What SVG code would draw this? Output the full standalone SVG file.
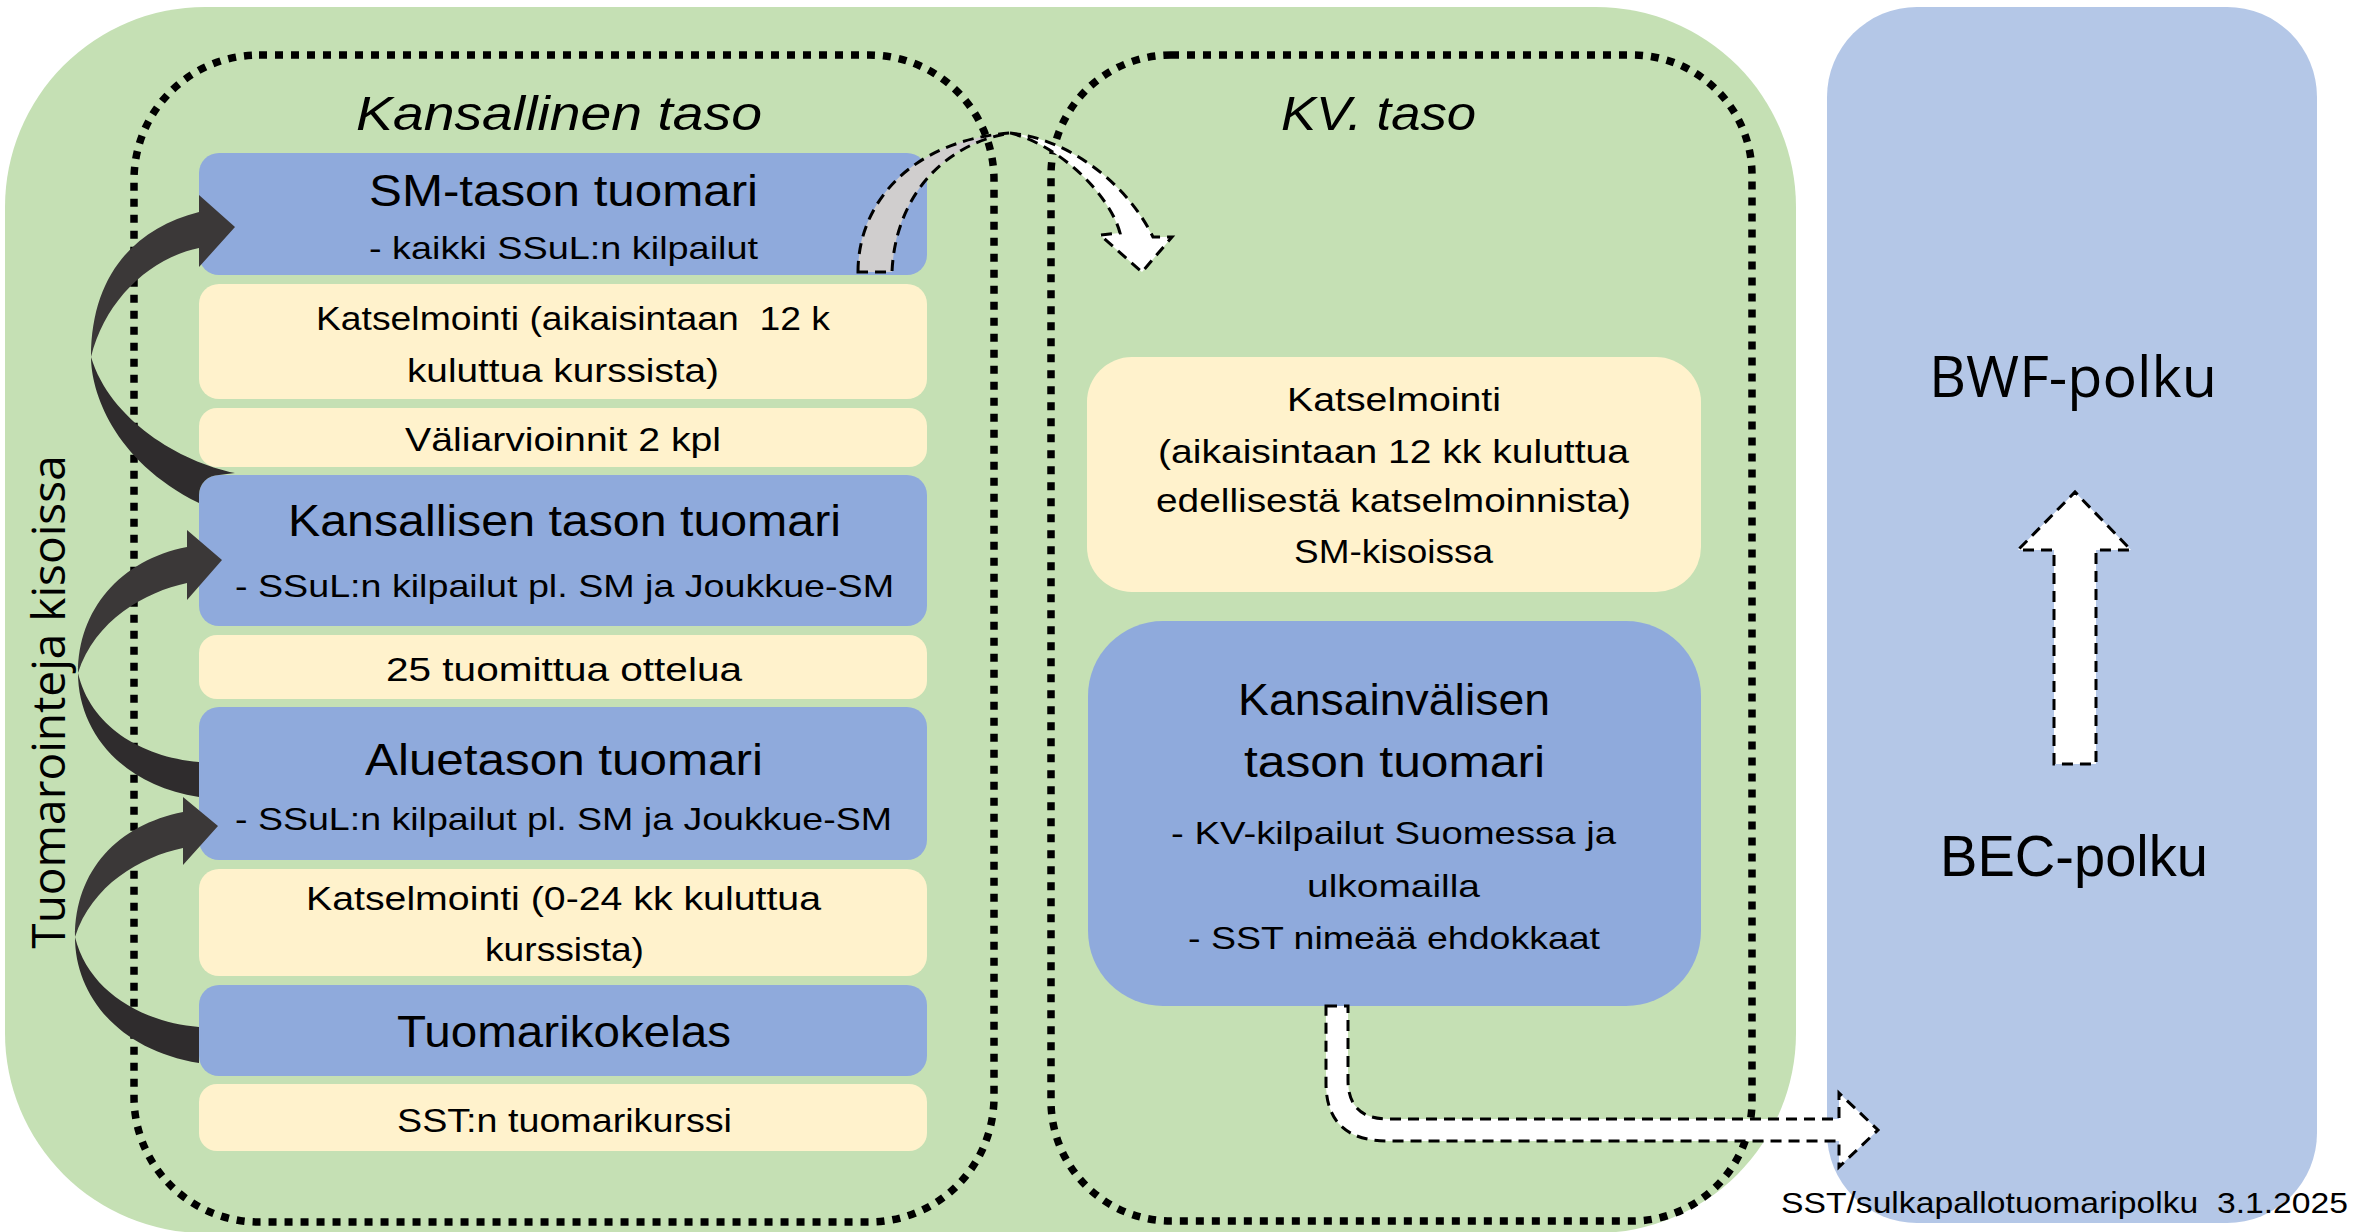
<svg xmlns="http://www.w3.org/2000/svg" width="2374" height="1232" viewBox="0 0 2374 1232">
<defs>
<style>
.t{font-family:"Liberation Sans",Arial,sans-serif;fill:#000;white-space:pre}
.os{font-family:"Open Sans","Noto Sans",sans-serif;fill:#000}
.big{font-size:45px}
.sm{font-size:33px}
.sub{font-size:32px}
.ttl{font-size:49px;font-style:italic}
.blue{fill:#8FAADC}
.yel{fill:#FFF2CC}
.dots{fill:none;stroke:#000;stroke-width:7.5;stroke-dasharray:8 8}
.dash{stroke:#000;stroke-width:3;stroke-dasharray:11 7;stroke-linejoin:miter}
.dk1{fill:#3B3838}
.dk2{fill:#2F2C2D}
</style>
</defs>

<g id="background">
<rect x="5" y="7" width="1791" height="1226" rx="200" ry="200" fill="#C5E0B4"/>
<rect x="1827" y="7" width="490" height="1216" rx="90" ry="90" fill="#B4C7E7"/>
</g>

<g id="container-national">
<rect class="dots" x="134" y="55" width="860" height="1167" rx="125" ry="125"/>
<text class="t ttl" x="356" y="130" textLength="406" lengthAdjust="spacingAndGlyphs">Kansallinen taso</text>
</g>

<g id="container-international">
<rect class="dots" x="1051" y="55" width="701" height="1166" rx="120" ry="120"/>
<text class="t ttl" x="1281" y="130" textLength="195" lengthAdjust="spacingAndGlyphs">KV. taso</text>
</g>

<g id="panel-bwf">
<text class="os" font-size="57" x="1929" y="397" textLength="288" lengthAdjust="spacingAndGlyphs">BWF-polku</text>
</g>
<g id="panel-bec">
<text class="t" font-size="57" x="1940" y="876" textLength="268" lengthAdjust="spacingAndGlyphs">BEC-polku</text>
</g>

<g id="node-sm-tason">
<rect class="blue" x="199" y="153" width="728" height="122" rx="20"/>
<text class="t big" x="369" y="206" textLength="389" lengthAdjust="spacingAndGlyphs">SM-tason tuomari</text>
<text class="t sub" x="369" y="259" textLength="389" lengthAdjust="spacingAndGlyphs">- kaikki SSuL:n kilpailut</text>
</g>

<g id="node-katselmointi-12k">
<rect class="yel" x="199" y="284" width="728" height="115" rx="20"/>
<text class="t sm" x="316" y="330" textLength="514" lengthAdjust="spacingAndGlyphs" xml:space="preserve">Katselmointi (aikaisintaan  12 k</text>
<text class="t sm" x="407" y="382" textLength="312" lengthAdjust="spacingAndGlyphs">kuluttua kurssista)</text>
</g>

<g id="node-valiarvioinnit">
<rect class="yel" x="199" y="408" width="728" height="59" rx="18"/>
<text class="t sm" x="405" y="451" textLength="316" lengthAdjust="spacingAndGlyphs">Väliarvioinnit 2 kpl</text>
</g>

<g id="node-kansallisen">
<rect class="blue" x="199" y="475" width="728" height="151" rx="20"/>
<text class="t big" x="288" y="536" textLength="553" lengthAdjust="spacingAndGlyphs">Kansallisen tason tuomari</text>
<text class="t sub" x="235" y="597" textLength="659" lengthAdjust="spacingAndGlyphs">- SSuL:n kilpailut pl. SM ja Joukkue-SM</text>
</g>

<g id="node-25-ottelua">
<rect class="yel" x="199" y="635" width="728" height="64" rx="18"/>
<text class="t sm" x="386" y="681" textLength="356" lengthAdjust="spacingAndGlyphs">25 tuomittua ottelua</text>
</g>

<g id="node-aluetason">
<rect class="blue" x="199" y="707" width="728" height="153" rx="20"/>
<text class="t big" x="365" y="775" textLength="398" lengthAdjust="spacingAndGlyphs">Aluetason tuomari</text>
<text class="t sub" x="235" y="830" textLength="657" lengthAdjust="spacingAndGlyphs">- SSuL:n kilpailut pl. SM ja Joukkue-SM</text>
</g>

<g id="node-katselmointi-024">
<rect class="yel" x="199" y="869" width="728" height="107" rx="20"/>
<text class="t sm" x="306" y="910" textLength="515" lengthAdjust="spacingAndGlyphs">Katselmointi (0-24 kk kuluttua</text>
<text class="t sm" x="485" y="961" textLength="159" lengthAdjust="spacingAndGlyphs">kurssista)</text>
</g>

<g id="node-tuomarikokelas">
<rect class="blue" x="199" y="985" width="728" height="91" rx="20"/>
<text class="t big" x="397" y="1047" textLength="334" lengthAdjust="spacingAndGlyphs">Tuomarikokelas</text>
</g>

<g id="node-tuomarikurssi">
<rect class="yel" x="199" y="1084" width="728" height="67" rx="18"/>
<text class="t sm" x="397" y="1132" textLength="335" lengthAdjust="spacingAndGlyphs">SST:n tuomarikurssi</text>
</g>

<g id="node-kv-katselmointi">
<rect class="yel" x="1087" y="357" width="614" height="235" rx="45"/>
<text class="t sm" x="1287" y="411" textLength="214" lengthAdjust="spacingAndGlyphs">Katselmointi</text>
<text class="t sm" x="1158" y="463" textLength="471" lengthAdjust="spacingAndGlyphs">(aikaisintaan 12 kk kuluttua</text>
<text class="t sm" x="1156" y="512" textLength="475" lengthAdjust="spacingAndGlyphs">edellisestä katselmoinnista)</text>
<text class="t sm" x="1294" y="563" textLength="199" lengthAdjust="spacingAndGlyphs">SM-kisoissa</text>
</g>

<g id="node-kansainvalisen">
<rect class="blue" x="1088" y="621" width="613" height="385" rx="75"/>
<text class="t big" x="1238" y="715" textLength="312" lengthAdjust="spacingAndGlyphs">Kansainvälisen</text>
<text class="t big" x="1244" y="777" textLength="301" lengthAdjust="spacingAndGlyphs">tason tuomari</text>
<text class="t sub" x="1171" y="844" textLength="445" lengthAdjust="spacingAndGlyphs">- KV-kilpailut Suomessa ja</text>
<text class="t sub" x="1307" y="897" textLength="173" lengthAdjust="spacingAndGlyphs">ulkomailla</text>
<text class="t sub" x="1188" y="949" textLength="412" lengthAdjust="spacingAndGlyphs">- SST nimeää ehdokkaat</text>
</g>

<g id="connectors">
<!-- Kansallisen -> SM -->
<path class="dk2" d="M91,357 C91,390 112,460 199,503 L199,495 A20,20 0 0 1 219,475 L235,473 C180,462 110,420 91,357 Z"/>
<path class="dk1" d="M91,357 C91,275 135,228 199,212 L199,195 L235,227 L199,267 L199,248 C150,258 105,300 91,357 Z"/>
<!-- Aluetason -> Kansallisen -->
<path class="dk2" d="M78,673 C78,730 120,785 199,797 L199,762 C140,757 90,725 78,673 Z"/>
<path class="dk1" d="M78,673 C78,610 120,560 187,547 L187,530 L222,560 L187,600 L187,583 C145,592 95,620 78,673 Z"/>
<!-- Tuomarikokelas -> Aluetason -->
<path class="dk2" d="M75,937 C75,995 118,1050 199,1063 L199,1027 C140,1022 88,990 75,937 Z"/>
<path class="dk1" d="M75,937 C75,870 118,825 183,812 L183,797 L218,826 L183,865 L183,848 C140,857 92,885 75,937 Z"/>
<!-- SM -> KV (curved, dashed) -->
<path class="dash" fill="#D0CECE" d="M858,272 C858,200 915,140 1010,133 C940,145 895,200 892,272 Z"/>
<path class="dash" fill="#FFFFFF" d="M1010,133 C1065,138 1125,180 1153,237 L1172,237 L1142,272 L1100,235 L1120,233 C1110,195 1060,145 1010,133 Z"/>
<!-- KV -> BEC (bent, dashed) -->
<path class="dash" fill="#FFFFFF" d="M1326,1006 L1348,1006 L1348,1080 Q1348,1119 1388,1119 L1839,1119 L1839,1093 L1878,1130 L1839,1167 L1839,1141 L1388,1141 Q1326,1141 1326,1083 Z"/>
<!-- BEC -> BWF (up, dashed) -->
<path class="dash" fill="#FFFFFF" d="M2054,764 L2054,550 L2018,550 L2075,492 L2131,550 L2096,550 L2096,764 Z"/>
</g>

<g id="side-label">
<text class="os" font-size="46" transform="translate(65,702) rotate(-90)" text-anchor="middle">Tuomarointeja kisoissa</text>
</g>

<g id="footer">
<text class="t" font-size="30" x="1781" y="1213" textLength="567" lengthAdjust="spacingAndGlyphs" xml:space="preserve">SST/sulkapallotuomaripolku  3.1.2025</text>
</g>
</svg>
